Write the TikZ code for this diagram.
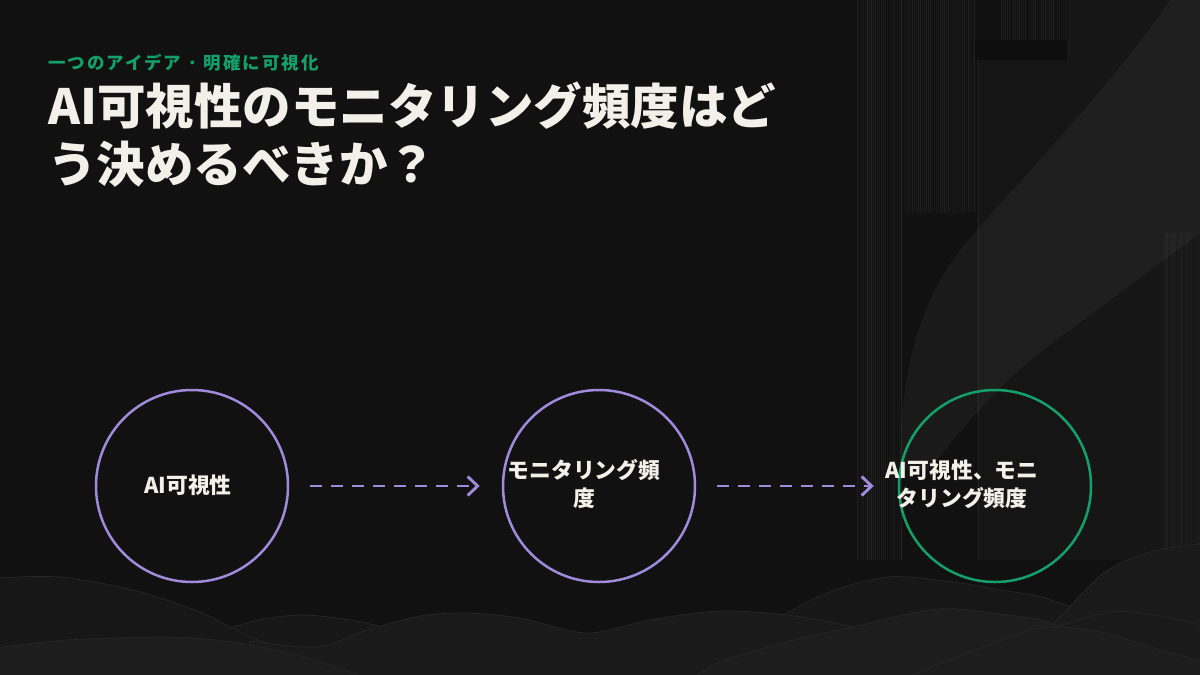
\documentclass[tikz,border=0pt]{standalone}
\usepackage{fontspec}
\newfontfamily\jp{Noto Sans CJK JP}
\usetikzlibrary{arrows.meta}
\definecolor{bg}{HTML}{111111}
\definecolor{ink}{HTML}{F2F0E8}
\definecolor{lav}{HTML}{A18ADC}
\definecolor{grn}{HTML}{14A06B}
\definecolor{hillA}{HTML}{171717}
\definecolor{hillB}{HTML}{1A1A1A}
\definecolor{hillC}{HTML}{1D1D1D}
\definecolor{hedge}{HTML}{272727}
\tikzset{
  ring/.style={circle, draw=#1, line width=2.5pt, minimum size=192pt, inner sep=0pt},
  lbl/.style={text=ink, font=\jp\bfseries\fontsize{21.8}{28}\selectfont, align=center, inner sep=0pt},
  flow/.style={draw=lav, line width=2.9pt, dash pattern=on 12pt off 9pt,
    -{Straight Barb[length=10pt,width=19pt]}},
  hill/.style={fill=#1, draw=hedge, line width=0.7pt},
  stripe/.style={line width=0.8pt}
}
\begin{document}
\begin{tikzpicture}[x=1pt,y=-1pt]
\useasboundingbox (0,0) rectangle (1200,675);
\fill[bg] (0,0) rectangle (1200,675);
% right background blocks
\fill[white,fill opacity=0.025] (1067,0) rectangle (1200,560);
\fill[white,fill opacity=0.018] (977,60) rectangle (1067,560);
\fill[black,fill opacity=0.15] (975,40) rectangle (1067,60);
\draw[white,opacity=0.05,line width=1pt] (978,62) -- (978,560);
\pgfmathsetseed{7}
\foreach \i in {0,...,22}{
  \pgfmathsetmacro{\op}{0.02+0.06*rnd}
  \draw[stripe,white,opacity=\op] (857+2*\i,0) -- (857+2*\i,560);
}
\foreach \i in {0,...,35}{
  \pgfmathsetmacro{\op}{0.015+0.05*rnd}
  \draw[stripe,white,opacity=\op] (904+2*\i,0) -- (904+2*\i,213);
}
\foreach \i in {0,...,32}{
  \pgfmathsetmacro{\op}{0.015+0.05*rnd}
  \draw[stripe,white,opacity=\op] (1001+2*\i,0) -- (1001+2*\i,40);
}
\foreach \i in {0,...,18}{
  \pgfmathsetmacro{\op}{0.015+0.05*rnd}
  \draw[stripe,white,opacity=\op] (1163+2*\i,233) -- (1163+2*\i,560);
}
% swoosh
\fill[white,fill opacity=0.04]
  (1170,0) .. controls (1110,90) and (1000,200) .. (960,250)
  .. controls (915,310) and (900,380) .. (900,470)
  -- (930,470) .. controls (960,430) and (1000,380) .. (1067,332)
  -- (1200,233) -- (1200,0) -- cycle;
% hills
\draw[hill=hillA] plot[smooth] coordinates {(180,645) (250,622) (300,615) (350,620) (400,632) (470,660) (500,680)} -- (180,680) -- cycle;
\draw[hill=hillA] plot[smooth] coordinates {(740,640) (820,596) (887,577) (953,582) (1000,590) (1045,598) (1090,620) (1120,680)} -- (740,680) -- cycle;
\draw[hill=hillB] plot[smooth] coordinates {(1030,650) (1065,612) (1105,572) (1150,552) (1205,543)} -- (1205,680) -- (1030,680) -- cycle;
\draw[hill=hillA] plot[smooth] coordinates {(-5,578) (60,577) (133,590) (200,612) (250,637) (300,653) (360,672) (380,680)} -- (-5,680) -- cycle;
\draw[hill=hillB] plot[smooth] coordinates {(250,641) (317,647) (367,630) (420,616) (467,613) (520,618) (587,633) (650,620) (720,611) (787,615) (853,627) (920,648) (980,680)} -- (250,680) -- cycle;
\draw[hill=hillB] plot[smooth] coordinates {(1040,632) (1110,612) (1160,616) (1205,626)} -- (1205,680) -- (1040,680) -- cycle;
\draw[hill=hillC] plot[smooth] coordinates {(-5,648) (67,640) (167,637) (233,642) (300,656) (350,672) (370,680)} -- (-5,680) -- cycle;
\draw[hill=hillC] plot[smooth] coordinates {(690,680) (720,662) (790,641) (853,627) (937,609) (1000,614) (1048,622) (1090,645) (1110,680)} -- cycle;
\draw[hill=hillC] plot[smooth] coordinates {(900,680) (960,656) (1040,628) (1100,632) (1160,650) (1205,662)} -- (1205,680) -- cycle;
% titles
\node[anchor=base west, text=grn, inner sep=0pt,
  font=\jp\bfseries\fontsize{17.5}{20}\selectfont\addfontfeature{LetterSpace=11}] (sub) at (48,69) {一つのアイデア · 明確に可視化};
\node[anchor=base west, text=ink, inner sep=0pt,
  font=\jp\bfseries\fontsize{48.5}{58}\selectfont] (t1) at (48,124) {AI可視性のモニタリング頻度はど};
\node[anchor=base west, text=ink, inner sep=0pt,
  font=\jp\bfseries\fontsize{48.5}{58}\selectfont] (t2) at (48,182) {う決めるべきか？};
% circles
\node[ring=lav] (c1) at (192,486) {};
\node[ring=lav] (c2) at (599,486) {};
\node[ring=grn] (c3) at (995,486) {};
\node[lbl] (l1) at (188,485) {AI可視性};
\node[lbl] (l2) at (584,484) {モニタリング頻\\度};
\node[lbl] (l3) at (962,484) {AI可視性、モニ\\タリング頻度};
% arrows
\draw[flow, shorten <=21pt, shorten >=22pt] (c1.east) -- (c2.west);
\draw[flow, shorten <=21pt, shorten >=24pt] (c2.east) -- (c3.west);
\end{tikzpicture}
\end{document}
